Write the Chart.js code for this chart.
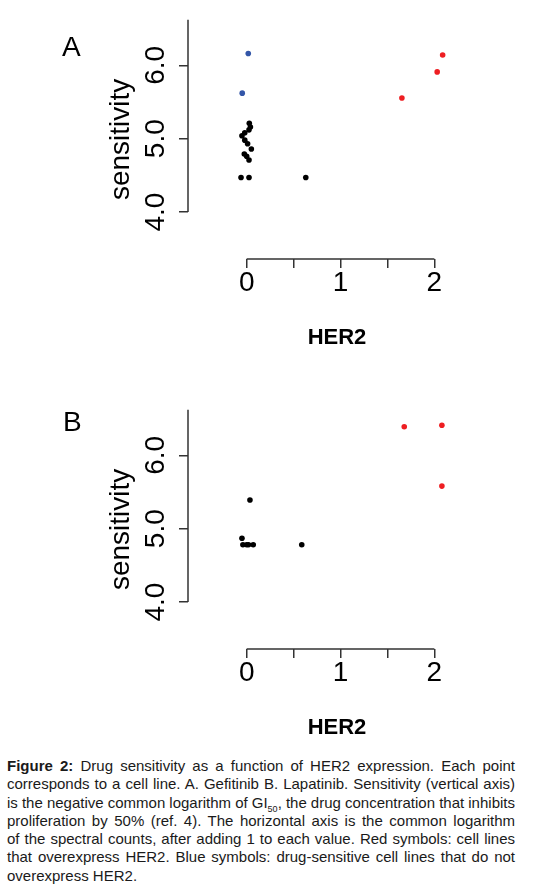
<!DOCTYPE html>
<html><head><meta charset="utf-8">
<script src="https://cdn.jsdelivr.net/npm/chart.js@4/dist/chart.umd.min.js"></script>
<style>
html,body{margin:0;padding:0;background:#fff;}
body{width:536px;height:889px;position:relative;overflow:hidden;font-family:'Liberation Sans',Arial,sans-serif;}
canvas{position:absolute;left:0;}
.lab{position:absolute;font-size:28px;line-height:28px;color:#000;}
#caption{position:absolute;left:7px;top:757px;width:508px;font-size:15px;line-height:18.3px;color:#1a1a1a;}
#caption .ln{text-align:justify;text-align-last:justify;word-spacing:-3px;}
#caption .last{text-align:left;}
.sub{font-size:9px;vertical-align:-4px;line-height:0;}
</style>
</head><body>
<canvas id="cA" width="536" height="365" style="top:0px"></canvas>
<canvas id="cB" width="536" height="365" style="top:390px"></canvas>
<div class="lab" style="left:62px;top:33px">A</div>
<div class="lab" style="left:63px;top:408px">B</div>
<div id="caption">
<div class="ln"><b>Figure 2:</b> Drug sensitivity as a function of HER2 expression. Each point</div>
<div class="ln">corresponds to a cell line. A. Gefitinib B. Lapatinib. Sensitivity (vertical axis)</div>
<div class="ln">is the negative common logarithm of GI<span class="sub">50</span>, the drug concentration that inhibits</div>
<div class="ln">proliferation by 50% (ref. 4). The horizontal axis is the common logarithm</div>
<div class="ln">of the spectral counts, after adding 1 to each value. Red symbols: cell lines</div>
<div class="ln">that overexpress HER2. Blue symbols: drug-sensitive cell lines that do not</div>
<div class="last">overexpress HER2.</div>
</div>
<script>
// ---- data ----
const tickValuesY = [4, 5, 6];
const tickValuesX = [0, 0.5, 1, 1.5, 2];
const labeledX = [0, 1, 2];
const yAxisTop = 6.62;
const xRange = [-0.625, 2.55];
const yRange = [3.36, 6.62];

// Panel A (Gefitinib)
const aBlackX = [-0.06, 0.025, 0.63, 0.028, 0.04, 0.025, -0.02, -0.05, -0.02, 0.01, 0.05, -0.025, 0.0, 0.025];
const aBlackY = [4.47, 4.47, 4.47, 5.21, 5.16, 5.12, 5.08, 5.04, 4.98, 4.93, 4.86, 4.79, 4.76, 4.71];
const aBlueX = [0.017, -0.047];
const aBlueY = [6.16, 5.62];
const aRedX = [1.654, 2.03, 2.088];
const aRedY = [5.555, 5.91, 6.14];

// Panel B (Lapatinib)
const bBlackX = [0.035, -0.05, -0.04, 0.0, 0.02, 0.07, 0.587];
const bBlackY = [5.39, 4.87, 4.78, 4.78, 4.78, 4.78, 4.78];
const bRedX = [1.679, 2.08, 2.08];
const bRedY = [6.39, 6.41, 5.58];

const FONT = "'Liberation Sans', Arial, sans-serif";
const AXIS_COLOR = '#333';

function pts(xs, ys) { return xs.map((x, i) => ({ x: x, y: ys[i] })); }
function ds(xs, ys, color) {
  return { data: pts(xs, ys), backgroundColor: color, borderWidth: 0, pointRadius: 2.8, pointStyle: 'circle' };
}

const rAxes = {
  id: 'rAxes',
  afterDraw(chart) {
    const { ctx, chartArea, scales } = chart;
    const x = scales.x, y = scales.y;
    ctx.save();
    ctx.strokeStyle = AXIS_COLOR;
    ctx.lineWidth = 1.5;
    ctx.beginPath();
    ctx.moveTo(chartArea.left, y.getPixelForValue(tickValuesY[0]));
    ctx.lineTo(chartArea.left, y.getPixelForValue(yAxisTop));
    ctx.moveTo(x.getPixelForValue(labeledX[0]), chartArea.bottom);
    ctx.lineTo(x.getPixelForValue(labeledX[labeledX.length - 1]), chartArea.bottom);
    ctx.stroke();
    ctx.restore();
  }
};

function makeChart(id, datasets) {
  return new Chart(document.getElementById(id), {
    type: 'scatter',
    data: { datasets: datasets },
    options: {
      responsive: false,
      animation: false,
      events: [],
      layout: { padding: { left: 100, right: 50, top: 12, bottom: 0 } },
      plugins: { legend: { display: false }, tooltip: { enabled: false } },
      scales: {
        x: {
          type: 'linear', min: xRange[0], max: xRange[1],
          afterBuildTicks: s => { s.ticks = tickValuesX.map(v => ({ value: v })); },
          afterFit: s => { s.height = 106; },
          grid: { drawOnChartArea: false, drawTicks: true, tickLength: 9, color: AXIS_COLOR, lineWidth: 1.5 },
          border: { display: false },
          ticks: {
            font: { family: FONT, size: 28, lineHeight: 1.0 }, color: '#000', padding: 1,
            maxRotation: 0, minRotation: 0, autoSkip: false,
            callback: v => labeledX.includes(v) ? String(v) : ''
          },
          title: { display: true, text: 'HER2', color: '#000', font: { family: FONT, size: 22, weight: 'bold' }, padding: { top: 0, bottom: 14 } }
        },
        y: {
          type: 'linear', min: yRange[0], max: yRange[1],
          afterBuildTicks: s => { s.ticks = tickValuesY.map(v => ({ value: v })); },
          afterFit: s => { s.width = 88; },
          grid: { drawOnChartArea: false, drawTicks: true, tickLength: 9, color: AXIS_COLOR, lineWidth: 1.5 },
          border: { display: false },
          ticks: {
            font: { family: FONT, size: 28 }, color: '#000', padding: 3,
            minRotation: 90, maxRotation: 90, crossAlign: 'center', autoSkip: false,
            callback: v => v.toFixed(1)
          },
          title: { display: true, text: 'sensitivity', color: '#000', font: { family: FONT, size: 28 }, padding: { top: 4, bottom: 0 } }
        }
      }
    },
    plugins: [rAxes]
  });
}

makeChart('cA', [
  ds(aBlackX, aBlackY, '#000000'),
  ds(aBlueX, aBlueY, '#3356a8'),
  ds(aRedX, aRedY, '#ee1e22')
]);
makeChart('cB', [
  ds(bBlackX, bBlackY, '#000000'),
  ds(bRedX, bRedY, '#ee1e22')
]);
</script>
</body></html>
